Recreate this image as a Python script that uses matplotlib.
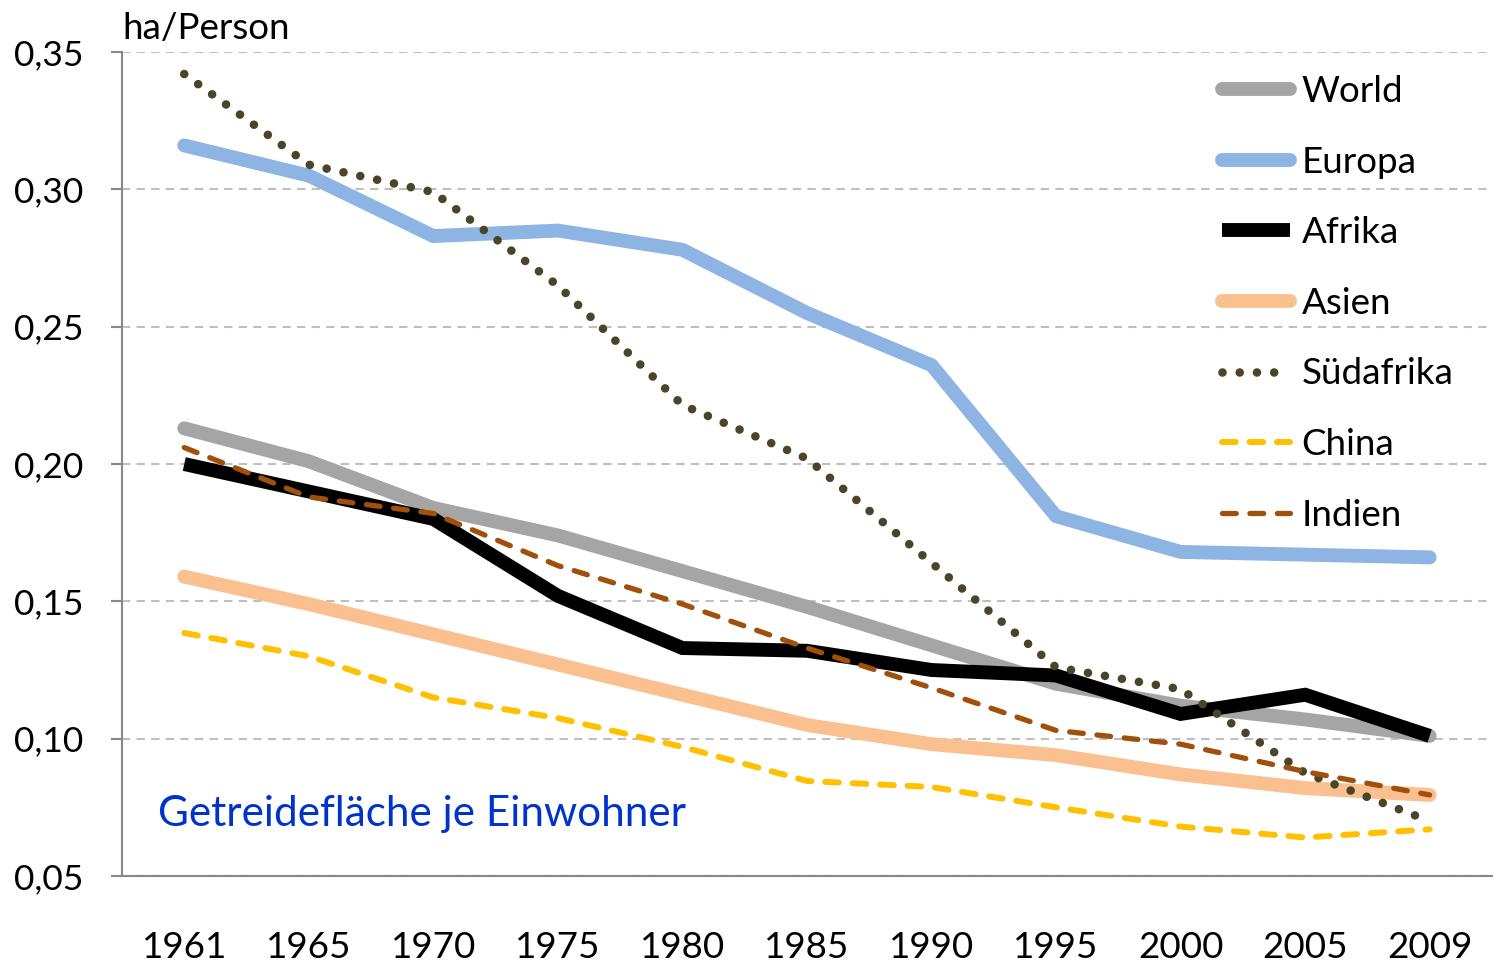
import matplotlib
matplotlib.use("Agg")
import matplotlib.pyplot as plt
from matplotlib.ticker import FixedLocator

plt.rcParams['font.family'] = ['Lato', 'DejaVu Sans']

years = ['1961', '1965', '1970', '1975', '1980', '1985', '1990', '1995', '2000', '2005', '2009']

world = [0.213, 0.201, 0.184, 0.174, 0.161, 0.148, 0.134, 0.120, 0.112, 0.107, 0.101]
europa = [0.316, 0.305, 0.283, 0.285, 0.278, 0.255, 0.236, 0.181, 0.168, 0.167, 0.166]
afrika = [0.200, 0.190, 0.180, 0.152, 0.133, 0.132, 0.125, 0.123, 0.109, 0.116, 0.101]
asien = [0.159, 0.149, 0.138, 0.127, 0.116, 0.105, 0.098, 0.094, 0.087, 0.082, 0.0795]
suedafrika = [0.342, 0.309, 0.299, 0.265, 0.2215, 0.202, 0.164, 0.126, 0.118, 0.0875, 0.070]
china = [0.1385, 0.130, 0.115, 0.1075, 0.097, 0.0846, 0.0824, 0.075, 0.068, 0.064, 0.067]
indien = [0.206, 0.188, 0.182, 0.163, 0.149, 0.133, 0.1185, 0.103, 0.098, 0.088, 0.0795]

x = list(range(len(years)))

fig = plt.figure(figsize=(14.93, 9.64), dpi=100)
ax = fig.add_axes([0.0817, 0.0913, 0.9176, 0.8547])

# Linien
ax.plot(x, world, color='#A5A5A5', lw=10, solid_capstyle='round', solid_joinstyle='round', label='World')
ax.plot(x, europa, color='#8EB4E3', lw=10, solid_capstyle='round', solid_joinstyle='round', label='Europa')
ax.plot(x, afrika, color='black', lw=10, solid_capstyle='butt', solid_joinstyle='miter', label='Afrika')
ax.plot(x, asien, color='#FAC090', lw=10, solid_capstyle='round', solid_joinstyle='round', label='Asien')
ax.plot(x, suedafrika, color='#4A452A', lw=6.2, linestyle=(0, (0.001, 2.0)),
        dash_capstyle='round', label='Südafrika')
ax.plot(x, china, color='#FFC000', lw=4.3, linestyle=(0, (2.3, 2.3)),
        dash_capstyle='round', label='China')
ax.plot(x, indien, color='#A0500A', lw=3.8, linestyle=(0, (2.6, 2.6)),
        dash_capstyle='round', label='Indien')

ax.set_xlim(-0.5, len(years) - 0.5)
ax.set_ylim(0.05, 0.35)
ax.set_xticks(x)
ax.set_xticklabels(years)
ax.yaxis.set_major_locator(FixedLocator([0.05, 0.10, 0.15, 0.20, 0.25, 0.30, 0.35]))
ax.set_yticklabels(['0,05', '0,10', '0,15', '0,20', '0,25', '0,30', '0,35'])

ax.tick_params(axis='x', length=0, labelsize=26.5, pad=39.5)
ax.tick_params(axis='y', length=8, width=1.5, color='#888888', labelsize=25.5, pad=20)

for s in ['top', 'right']:
    ax.spines[s].set_visible(False)
for s in ['left', 'bottom']:
    ax.spines[s].set_color('#888888')
    ax.spines[s].set_linewidth(1.5)

ax.yaxis.grid(True, color='#BFBFBF', linestyle=(0, (4, 3)), lw=1.5)
ax.set_axisbelow(True)

ax.text(0.0, 1.008, 'ha/Person', transform=ax.transAxes, fontsize=26.5, ha='left', va='bottom')
ax.text(0.026, 0.075, 'Getreidefläche je Einwohner', transform=ax.transAxes,
        fontsize=30.4, color='#0033CC', ha='left', va='center')

leg = ax.legend(loc='upper right', bbox_to_anchor=(0.996, 1.012), frameon=False, fontsize=26.5,
                handlelength=1.85, handletextpad=0.3, labelspacing=1.02)

fig.savefig('out.png', dpi=100)
